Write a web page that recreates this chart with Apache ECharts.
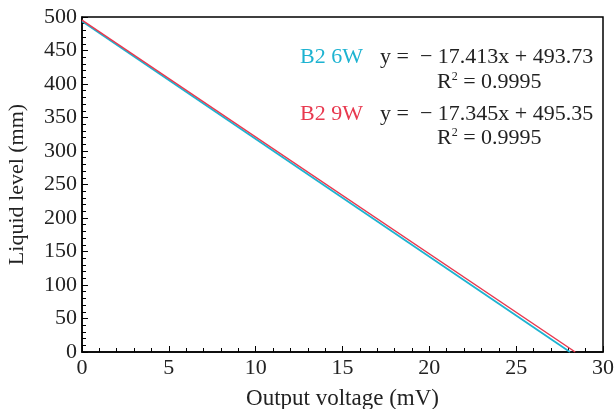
<!DOCTYPE html>
<html>
<head>
<meta charset="utf-8">
<script src="https://cdn.jsdelivr.net/npm/echarts@6/dist/echarts.min.js"></script>
<style>
  html, body { margin: 0; padding: 0; background: #fff; }
  #main { width: 614px; height: 409px; }
</style>
</head>
<body>
<div id="main"></div>
<script>
// values
var voltage6W = [0, 28.1];
var level6W = [493.7, 0];
var voltage9W = [0, 28.4];
var level9W = [495.3, 0];

var cyan = '#1db3d1';
var red = '#e8394f';
var font = 'Liberation Serif';
var ink = '#222';

function pairs(xs, ys) {
    return xs.map(function (x, i) { return [x, ys[i]]; });
}

// R² line built with rich text so the 2 sits up high
function r2Text(left, top) {
    return {
        type: 'text', left: left, top: top,
        style: {
            text: '{a|R}{s|2}{a| = 0.9995}',
            rich: {
                a: { fontFamily: font, fontSize: 22, fill: ink },
                s: { fontFamily: font, fontSize: 12, fill: ink, verticalAlign: 'top', padding: [0, 0, 9, 0] }
            }
        }
    };
}

var chart = echarts.init(document.getElementById('main'));
var option = {
    animation: false,
    textStyle: { fontFamily: font },
    grid: {
        left: 82, right: 11, top: 17, bottom: 57,
        outerBoundsMode: 'none',
        show: true, borderColor: '#000', borderWidth: 1.5
    },
    xAxis: {
        type: 'value', min: 0, max: 30, interval: 5,
        name: 'Output voltage (mV)', nameLocation: 'middle', nameGap: 35,
        nameTextStyle: { fontFamily: font, fontSize: 23, color: ink },
        axisLine: { lineStyle: { color: '#000', width: 1.5 } },
        axisTick: { inside: true, length: 6, lineStyle: { color: '#000' } },
        minorTick: { show: true, splitNumber: 5, length: 4, lineStyle: { color: '#000' } },
        axisLabel: { fontFamily: font, fontSize: 22, color: ink, margin: 5 },
        splitLine: { show: false }
    },
    yAxis: {
        type: 'value', min: 0, max: 500, interval: 50,
        name: 'Liquid level (mm)', nameLocation: 'middle', nameGap: 54,
        nameTextStyle: { fontFamily: font, fontSize: 22, color: ink },
        axisLine: { lineStyle: { color: '#000', width: 1.5 } },
        axisTick: { inside: true, length: 6, lineStyle: { color: '#000' } },
        minorTick: { show: true, splitNumber: 5, length: 4, lineStyle: { color: '#000' } },
        axisLabel: { fontFamily: font, fontSize: 22, color: ink, margin: 5 },
        splitLine: { show: false }
    },
    series: [
        {
            name: 'B2 6W', type: 'line', data: pairs(voltage6W, level6W),
            symbol: 'none', lineStyle: { color: cyan, width: 1.8 }, z: 2
        },
        {
            name: 'B2 9W', type: 'line', data: pairs(voltage9W, level9W),
            symbol: 'none', lineStyle: { color: red, width: 1.5 }, z: 3
        }
    ],
    graphic: [
        { type: 'text', left: 300, top: 46, style: { text: 'B2 6W', fill: cyan, font: '22px "Liberation Serif"' } },
        { type: 'text', left: 380, top: 46, style: { text: 'y =  \u2212 17.413x + 493.73', fill: ink, font: '22px "Liberation Serif"' } },
        r2Text(437, 71),
        { type: 'text', left: 300, top: 103, style: { text: 'B2 9W', fill: red, font: '22px "Liberation Serif"' } },
        { type: 'text', left: 380, top: 103, style: { text: 'y =  \u2212 17.345x + 495.35', fill: ink, font: '22px "Liberation Serif"' } },
        r2Text(437, 127)
    ]
};
chart.setOption(option);
</script>
</body>
</html>
